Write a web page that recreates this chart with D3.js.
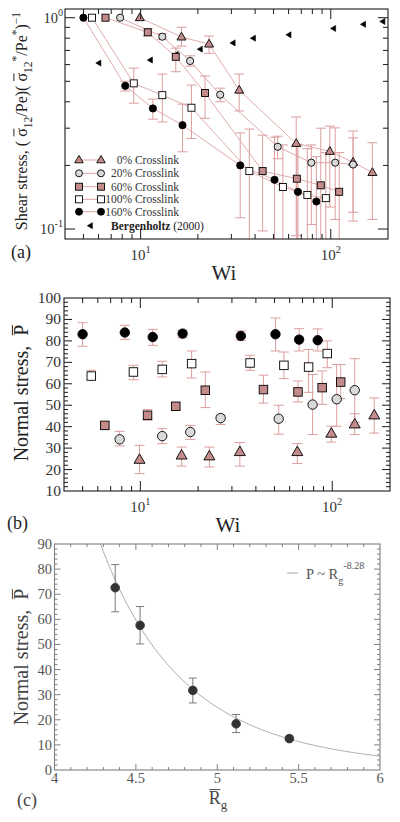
<!DOCTYPE html>
<html><head><meta charset="utf-8">
<script src="https://cdn.jsdelivr.net/npm/d3@7"></script>
<style>body{margin:0;background:#fff}svg{display:block}</style>
</head><body>
<script>
// ================= DATA =================
const crosslinkLabels = ["0% Crosslink", "20% Crosslink", "60% Crosslink", "100% Crosslink", "160% Crosslink"];
const bergLabel = "Bergenholtz";
const bergYear = " (2000)";

// Weissenberg numbers (shared by panels a and b)
const wi0   = [9.9, 16.4, 22.9, 33, 65.8, 98.9, 131, 165.6];
const wi20  = [7.8, 13, 18.2, 26.2, 52.6, 79, 105.5, 131];
const wi60  = [6.53, 10.9, 15.3, 21.8, 43.8, 66.3, 88.6, 110.7];
const wi100 = [5.55, 9.2, 13, 18.5, 37.3, 56, 75.3, 94.2];
const wi160 = [5.0, 8.3, 11.6, 16.6, 33.4, 50.6, 67.2, 84];

// Panel (a): normalized shear stress, with error-bar bounds
const shear0    = [1.0, 0.81, 0.75, 0.454, 0.254, 0.233, 0.207, 0.185];
const shearLo0  = [1.0, 0.734, 0.678, 0.362, 0.093, 0.127, 0.12, 0.111];
const shearHi0  = [1.0, 0.901, 0.819, 0.541, 0.339, 0.307, 0.27, 0.256];
const shear20   = [1.0, 0.813, 0.624, 0.432, 0.245, 0.206, 0.206, 0.202];
const shearLo20 = [1.0, 0.79, 0.59, 0.40, 0.215, 0.105, 0.111, 0.109];
const shearHi20 = [1.0, 0.84, 0.66, 0.464, 0.275, 0.25, 0.301, 0.291];
const shear60   = [1.0, 0.853, 0.653, 0.44, 0.188, 0.173, 0.161, 0.15];
const shearLo60 = [1.0, 0.82, 0.555, 0.334, 0.098, 0.08, 0.07, 0.085];
const shearHi60 = [1.0, 0.89, 0.718, 0.53, 0.278, 0.25, 0.30, 0.23];
const shear100   = [1.0, 0.489, 0.43, 0.375, 0.188, 0.158, 0.145, 0.14];
const shearLo100 = [1.0, 0.394, 0.321, 0.268, 0.05, 0.05, 0.05, 0.05];
const shearHi100 = [1.0, 0.577, 0.541, 0.48, 0.297, 0.25, 0.24, 0.23];
const shear160   = [1.0, 0.476, 0.372, 0.31, 0.2, 0.171, 0.15, 0.135];
const shearLo160 = [1.0, 0.45, 0.331, 0.232, 0.113, 0.05, 0.05, 0.05];
const shearHi160 = [1.0, 0.50, 0.412, 0.39, 0.285, 0.272, 0.25, 0.22];

const bergWi    = [6, 11.2, 15.3, 20.5, 30.5, 39, 60, 103, 148, 187];
const bergShear = [0.61, 0.63, 0.67, 0.71, 0.76, 0.80, 0.83, 0.89, 0.93, 0.96];

// Panel (b): normal stress
const pres0    = [24.6, 26.6, 26.2, 28.2, 28.2, 36.8, 41.1, 45.3];
const presLo0  = [18.1, 21.6, 21.2, 21.6, 22.8, 32.8, 36.3, 37.0];
const presHi0  = [31.3, 30.5, 30.5, 32.6, 32.1, 40.2, 46, 53.4];
const pres20   = [34.1, 35.6, 37.5, 44.0, 43.7, 50.3, 52.8, 57.0];
const presLo20 = [31.0, 32.1, 34.0, 41, 36.5, 36.3, 40.2, 42];
const presHi20 = [37.8, 39.1, 40.6, 45.5, 50, 64.3, 69, 71.7];
const pres60   = [40.6, 45.3, 49.5, 57.0, 57.3, 56.2, 58.2, 60.8];
const presLo60 = [39, 43, 48, 48.9, 51, 51.5, 50.4, 53];
const presHi60 = [42, 48, 51, 65.5, 64, 61.3, 66, 69];
const pres100   = [63.6, 65.5, 66.7, 69.4, 69.7, 68.6, 67.8, 74.1];
const presLo100 = [61.9, 61.9, 63.2, 62.7, 66.3, 62.4, 56, 67.5];
const presHi100 = [66.3, 68.6, 70.5, 75.3, 73.3, 74.8, 76, 80];
const pres160   = [83.1, 83.9, 81.8, 83.4, 82.3, 83.1, 80.6, 80.3];
const presLo160 = [77.5, 80.6, 77.9, 81.5, 80.3, 75.3, 75.3, 75.3];
const presHi160 = [88.5, 87.3, 85.4, 85, 84.6, 90.7, 85.7, 85.6];

// Panel (c): normal stress vs Rg
const rgValues = [4.373, 4.526, 4.85, 5.116, 5.443];
const rgPres   = [72.6, 57.6, 31.7, 18.4, 12.5];
const rgPresLo = [63.0, 50.2, 26.7, 14.9, 11.6];
const rgPresHi = [81.8, 65.1, 36.6, 22.1, 13.5];
const fitExponent = -8.28;
const fitPrefactor = 1.53e7;
const fitLabel = "-8.28";

// Tick labels
const wiMajorTicks = [10, 100];
const wiMajorLabels = [["10","1"], ["10","2"]];
const shearMajorTicks = [1, 0.1];
const shearMajorLabels = [["10","0"], ["10","-1"]];
const presTicks = [10, 20, 30, 40, 50, 60, 70, 80, 90, 100];
const rgPresTicks = [0, 10, 20, 30, 40, 50, 60, 70, 80, 90];
const rgTicks = [4, 4.5, 5, 5.5, 6];
const rgTickLabels = ["4", "4.5", "5", "5.5", "6"];

// ================= STYLE =================
const FONT = "'Liberation Serif','Times New Roman',Times,serif";
const PINK = "#c48b8b", GRAYF = "#d9d9d9", ERR = "#dc9e9e", LINEC = "#dba3a3";
const INK = "#1a1a1a";

const series = [
  {name: crosslinkLabels[0], wi: wi0, v: shear0, lo: shearLo0, hi: shearHi0, p: pres0, plo: presLo0, phi: presHi0, shape: "tri", fill: PINK},
  {name: crosslinkLabels[1], wi: wi20, v: shear20, lo: shearLo20, hi: shearHi20, p: pres20, plo: presLo20, phi: presHi20, shape: "circ", fill: GRAYF},
  {name: crosslinkLabels[2], wi: wi60, v: shear60, lo: shearLo60, hi: shearHi60, p: pres60, plo: presLo60, phi: presHi60, shape: "sq", fill: PINK},
  {name: crosslinkLabels[3], wi: wi100, v: shear100, lo: shearLo100, hi: shearHi100, p: pres100, plo: presLo100, phi: presHi100, shape: "sq", fill: "#ffffff"},
  {name: crosslinkLabels[4], wi: wi160, v: shear160, lo: shearLo160, hi: shearHi160, p: pres160, plo: presLo160, phi: presHi160, shape: "circ", fill: "#000000"}
];

const svg = d3.select("body").append("svg").attr("width", 400).attr("height", 822)
  .style("background", "#fff");

// ================= HELPERS =================
function marker(g, shape, x, y, s, fill, stroke) {
  stroke = stroke || "#000";
  if (shape === "circ") {
    g.append("circle").attr("cx", x).attr("cy", y).attr("r", s / 2)
      .attr("fill", fill).attr("stroke", stroke).attr("stroke-width", 0.9);
  } else if (shape === "sq") {
    g.append("rect").attr("x", x - s / 2).attr("y", y - s / 2).attr("width", s).attr("height", s)
      .attr("fill", fill).attr("stroke", stroke).attr("stroke-width", 0.9);
  } else if (shape === "tri") {
    const h = s * 0.866;
    g.append("path").attr("d", `M${x},${y - h * 0.62}L${x - s / 2},${y + h * 0.38}L${x + s / 2},${y + h * 0.38}Z`)
      .attr("fill", fill).attr("stroke", stroke).attr("stroke-width", 0.9).attr("stroke-linejoin", "miter");
  } else if (shape === "ltri") {
    g.append("path").attr("d", `M${x - s * 0.45},${y}L${x + s * 0.4},${y - s * 0.5}L${x + s * 0.4},${y + s * 0.5}Z`)
      .attr("fill", fill).attr("stroke", stroke).attr("stroke-width", 0.6);
  }
}

function errBar(g, x, y1, y2, cap, color) {
  g.append("line").attr("x1", x).attr("x2", x).attr("y1", y1).attr("y2", y2)
    .attr("stroke", color).attr("stroke-width", 1);
  [y1, y2].forEach(y => g.append("line").attr("x1", x - cap).attr("x2", x + cap).attr("y1", y).attr("y2", y)
    .attr("stroke", color).attr("stroke-width", 1));
}

function supLabel(g, x, y, base, sup, size, anchor, fill) {
  const t = g.append("text").attr("x", x).attr("y", y).attr("font-family", FONT)
    .attr("font-size", size).attr("text-anchor", anchor).attr("fill", fill);
  t.append("tspan").text(base);
  t.append("tspan").attr("font-size", size * 0.7).attr("dy", -size * 0.45).text(sup);
  return t;
}

function richText(g, parts, size, fill, anchor, olOffset) {
  const off = olOffset || 0.82;
  const t = g.append("text").attr("font-family", FONT).attr("font-size", size)
    .attr("fill", fill).attr("text-anchor", anchor || "middle");
  let cur = 0, idx = 0; const ol = [];
  parts.forEach(p => {
    const target = p.s === "sub" ? size * 0.3 : p.s === "sup" ? -size * 0.42 : 0;
    const ts = t.append("tspan").attr("dy", target - cur).text(p.t);
    if (p.s) ts.attr("font-size", size * 0.72);
    cur = target;
    if (p.ol) for (let k = 0; k < p.t.length; k++) ol.push(idx + k);
    idx += p.t.length;
  });
  ol.forEach(i => {
    try {
      const e = t.node().getExtentOfChar(i);
      g.append("line").attr("x1", e.x + 0.5).attr("x2", e.x + e.width - 0.5)
        .attr("y1", -size * off).attr("y2", -size * off)
        .attr("stroke", fill).attr("stroke-width", 1);
    } catch (err) {}
  });
  return t;
}

function frameTicks(g, xs, ys, xVals, xMajor, yVals, yMajor, majL, minL, color, majLy, minLy) {
  const [x0, x1] = xs.range(), [yb, yt] = ys.range();
  majLy = majLy || majL; minLy = minLy || minL;
  g.append("rect").attr("x", x0).attr("y", yt).attr("width", x1 - x0).attr("height", yb - yt)
    .attr("fill", "none").attr("stroke", color).attr("stroke-width", 1.1);
  xVals.forEach(v => {
    const x = xs(v); if (x <= x0 + 1 || x >= x1 - 1) return;
    const L = xMajor(v) ? majL : minL;
    g.append("line").attr("x1", x).attr("x2", x).attr("y1", yb).attr("y2", yb - L).attr("stroke", color);
    g.append("line").attr("x1", x).attr("x2", x).attr("y1", yt).attr("y2", yt + L).attr("stroke", color);
  });
  yVals.forEach(v => {
    const y = ys(v); if (y >= yb - 1 || y <= yt + 1) return;
    const L = yMajor(v) ? majLy : minLy;
    g.append("line").attr("x1", x0).attr("x2", x0 + L).attr("y1", y).attr("y2", y).attr("stroke", color);
    g.append("line").attr("x1", x1).attr("x2", x1 - L).attr("y1", y).attr("y2", y).attr("stroke", color);
  });
}

const isDecade = v => Math.abs(Math.log10(v) - Math.round(Math.log10(v))) < 1e-6;

// ================= PANEL (a) =================
const xA = d3.scaleLog().domain([4, 200]).range([65, 388]);
const yA = d3.scaleLog().domain([0.0897, 1.0994]).range([239, 9]);
const gA = svg.append("g");
svg.append("clipPath").attr("id", "clipA").append("rect")
  .attr("x", 65).attr("y", 9).attr("width", 323).attr("height", 230);
const gAdata = gA.append("g").attr("clip-path", "url(#clipA)");

series.forEach(s => {
  const pts = s.wi.map((w, i) => [xA(w), yA(s.v[i])]);
  gAdata.append("path").attr("d", d3.line()(pts)).attr("fill", "none")
    .attr("stroke", LINEC).attr("stroke-width", 0.9);
});
series.forEach(s => {
  s.wi.forEach((w, i) => {
    if (s.hi[i] - s.lo[i] < 1e-6) return;
    errBar(gAdata, xA(w), yA(s.lo[i]), yA(s.hi[i]), 5, ERR);
  });
});
bergWi.forEach((w, i) => marker(gAdata, "ltri", xA(w), yA(bergShear[i]), 6, "#000", "#000"));
series.forEach(s => {
  const size = s.shape === "tri" ? 9 : s.shape === "sq" ? 7 : 7.2;
  s.wi.forEach((w, i) => marker(gAdata, s.shape, xA(w), yA(s.v[i]), size, s.fill));
});

frameTicks(gA, xA, yA, xA.ticks(), isDecade, yA.ticks(), isDecade, 10, 5, INK);

wiMajorTicks.forEach((v, i) => supLabel(gA, xA(v), 260, wiMajorLabels[i][0], wiMajorLabels[i][1], 15, "middle", "#333"));
shearMajorTicks.forEach((v, i) => supLabel(gA, 63, yA(v) + 5, shearMajorLabels[i][0], shearMajorLabels[i][1], 14.5, "end", "#333"));

const legRows = [160, 173.3, 186.7, 199.3, 211.7];
series.forEach((s, i) => {
  const y = legRows[i];
  gA.append("line").attr("x1", 79).attr("x2", 101).attr("y1", y).attr("y2", y).attr("stroke", LINEC).attr("stroke-width", 1);
  const size = s.shape === "tri" ? 8.5 : 7;
  marker(gA, s.shape, 79, y, size, s.fill);
  marker(gA, s.shape, 101, y, size, s.fill);
  gA.append("text").attr("x", 179).attr("y", y + 4).attr("text-anchor", "end")
    .attr("font-family", FONT).attr("font-size", 11.5).attr("fill", "#333").text(s.name);
});
marker(gA, "ltri", 90, 225.7, 6, "#000", "#000");
const bt = gA.append("text").attr("x", 111).attr("y", 229.7).attr("font-family", FONT)
  .attr("font-size", 11.5).attr("fill", "#222");
bt.append("tspan").attr("font-weight", "bold").text(bergLabel);
bt.append("tspan").text(bergYear);

gA.append("text").attr("x", 224).attr("y", 280).attr("text-anchor", "middle").attr("font-family", FONT)
  .attr("font-size", 21).attr("fill", "#222").text("Wi");
gA.append("text").attr("x", 11).attr("y", 258).attr("font-family", FONT)
  .attr("font-size", 18).attr("fill", "#222").text("(a)");
const labA = gA.append("g").attr("transform", "translate(27,121) rotate(-90)");
richText(labA, [
  {t: "Shear stress, ( "}, {t: "σ", ol: true}, {t: "12", s: "sub"}, {t: "/Pe)( "},
  {t: "σ", ol: true}, {t: "12", s: "sub"}, {t: "*", s: "sup"}, {t: "/Pe"}, {t: "*", s: "sup"},
  {t: ")"}, {t: "−1", s: "sup"}
], 16, "#222");

// ================= PANEL (b) =================
const xB = d3.scaleLog().domain([4, 200]).range([64, 390]);
const yB = d3.scaleLinear().domain([10, 100]).range([491, 298]);
const gB = svg.append("g");
series.forEach(s => {
  s.wi.forEach((w, i) => errBar(gB, xB(w), yB(s.plo[i]), yB(s.phi[i]), 5, ERR));
});
series.forEach(s => {
  const size = s.shape === "tri" ? 11 : s.shape === "sq" ? 8.5 : 9.4;
  s.wi.forEach((w, i) => marker(gB, s.shape, xB(w), yB(s.p[i]), size, s.fill));
});
frameTicks(gB, xB, yB, xB.ticks(), isDecade, d3.range(10, 101, 2), v => v % 10 === 0, 10, 5, INK, 8, 4);
wiMajorTicks.forEach((v, i) => supLabel(gB, xB(v), 512, wiMajorLabels[i][0], wiMajorLabels[i][1], 15, "middle", "#333"));
presTicks.forEach(v => gB.append("text").attr("x", 61).attr("y", yB(v) + 5).attr("text-anchor", "end")
  .attr("font-family", FONT).attr("font-size", 15.5).attr("fill", "#333").text(v));
gB.append("text").attr("x", 228).attr("y", 532).attr("text-anchor", "middle").attr("font-family", FONT)
  .attr("font-size", 21).attr("fill", "#222").text("Wi");
gB.append("text").attr("x", 7).attr("y", 529).attr("font-family", FONT)
  .attr("font-size", 18).attr("fill", "#222").text("(b)");
const labB = svg.append("g").attr("transform", "translate(28,393) rotate(-90)");
richText(labB, [{t: "Normal stress,\u00A0\u00A0"}, {t: "P", ol: true}], 20, "#222", "middle", 0.78);

// ================= PANEL (c) =================
const xC = d3.scaleLinear().domain([4, 6]).range([54.5, 380]);
const yC = d3.scaleLinear().domain([0, 90]).range([770, 544]);
const gC = svg.append("g");
svg.append("clipPath").attr("id", "clipC").append("rect")
  .attr("x", 54.5).attr("y", 544).attr("width", 325.5).attr("height", 226);
const CAX = "#808080";
frameTicks(gC, xC, yC, d3.range(4, 6.001, 0.1).map(v => +v.toFixed(2)), v => Math.abs(v * 2 - Math.round(v * 2)) < 1e-6,
  d3.range(0, 91, 2), v => v % 10 === 0, 6, 3, CAX);
const fitPts = d3.range(4, 6.0001, 0.01).map(r => [xC(r), yC(fitPrefactor * Math.pow(r, fitExponent))]);
gC.append("path").attr("clip-path", "url(#clipC)").attr("d", d3.line()(fitPts))
  .attr("fill", "none").attr("stroke", "#aaa").attr("stroke-width", 1);
rgValues.forEach((r, i) => errBar(gC, xC(r), yC(rgPresLo[i]), yC(rgPresHi[i]), 4, "#7a7a7a"));
rgValues.forEach((r, i) => marker(gC, "circ", xC(r), yC(rgPres[i]), 8.6, "#333", "#333"));
rgTicks.forEach((v, i) => gC.append("text").attr("x", xC(v)).attr("y", 783).attr("text-anchor", "middle")
  .attr("font-family", FONT).attr("font-size", 14.5).attr("fill", "#555").text(rgTickLabels[i]));
rgPresTicks.forEach(v => gC.append("text").attr("x", 52).attr("y", yC(v) + 5).attr("text-anchor", "end")
  .attr("font-family", FONT).attr("font-size", 14.5).attr("fill", "#555").text(v));
gC.append("line").attr("x1", 287).attr("x2", 298).attr("y1", 573).attr("y2", 573).attr("stroke", "#aaa");
const ft = gC.append("text").attr("x", 306).attr("y", 579).attr("font-family", FONT)
  .attr("font-size", 14.5).attr("fill", "#555");
ft.append("tspan").text("P ~ R");
ft.append("tspan").attr("font-size", 10).attr("dy", 5).text("g");
ft.append("tspan").attr("font-size", 10).attr("dy", -15).text(fitLabel);
const labCx = gC.append("g").attr("transform", "translate(218,804)");
richText(labCx, [{t: "R", ol: true}, {t: "g", s: "sub"}], 18, "#444", "middle", 0.8);
gC.append("text").attr("x", 17).attr("y", 806).attr("font-family", FONT)
  .attr("font-size", 18).attr("fill", "#444").text("(c)");
const labC = svg.append("g").attr("transform", "translate(28,657) rotate(-90)");
richText(labC, [{t: "Normal stress,\u00A0\u00A0"}, {t: "P", ol: true}], 20, "#444", "middle", 0.78);
</script>
</body></html>
